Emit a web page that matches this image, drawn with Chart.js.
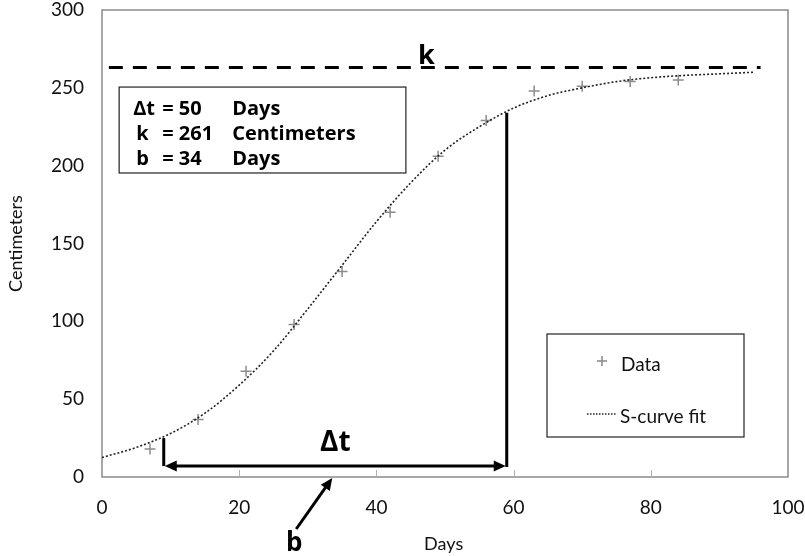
<!DOCTYPE html>
<html><head><meta charset="utf-8">
<script src="https://cdn.jsdelivr.net/npm/chart.js@4/dist/chart.umd.min.js"></script>
<style>html,body{margin:0;padding:0;background:#fff}</style>
</head><body>
<canvas id="c" width="805" height="556" style="display:block;width:805px;height:556px"></canvas>
<script>
// ---- data ----
const days = [7, 14, 21, 28, 35, 42, 49, 56, 63, 70, 77, 84];
const centimeters = [18, 37, 68, 98, 132, 170, 206, 229, 248, 251, 254, 255];
const fitDays = [0, 5, 10, 15, 20, 25, 30, 35, 40, 45, 50, 55, 60, 65, 70, 75, 80, 85, 90, 95];
const fitCentimeters = [12.5, 19, 28, 41, 59, 81, 108, 136, 164, 189, 210, 225, 237, 245, 250, 254, 256.5, 258, 259, 260];
const xTicks = [0, 20, 40, 60, 80, 100];
const yTicks = [0, 50, 100, 150, 200, 250, 300];
const kLine = 263;          // dashed asymptote level
const kLineFrom = 1, kLineTo = 96;
const deltaStart = 9, deltaEnd = 59, arrowLevel = 7;
const deltaStartTop = 25, deltaEndTop = 234;
const bValue = 34;
const infoLines = [["\u0394t", "= 50", "Days"], ["k", "= 261", "Centimeters"], ["b", "= 34", "Days"]];
const legendLabels = ["Data", "S-curve fit"];
const FONT = "Lato, 'Open Sans', sans-serif";
const BOLDFONT = "'Open Sans', Lato, sans-serif";

const overlay = {
  id: 'overlay',
  beforeDatasetsDraw(chart) {
    const {ctx, chartArea: a, scales: {x}} = chart;
    ctx.save();
    ctx.strokeStyle = '#8a8a8a'; ctx.lineWidth = 1.5;
    ctx.strokeRect(a.left, a.top, a.right - a.left, a.bottom - a.top);
    ctx.lineWidth = 1; ctx.strokeStyle = '#b0b0b0';
    xTicks.slice(1, -1).forEach(v => {
      const px = Math.round(x.getPixelForValue(v)) + 0.5;
      ctx.beginPath(); ctx.moveTo(px, a.bottom); ctx.lineTo(px, a.bottom - 7); ctx.stroke();
    });
    ctx.restore();
  },
  afterDatasetsDraw(chart) {
    const {ctx, chartArea: a, scales: {x, y}} = chart;
    ctx.save();
    // dashed k line
    ctx.strokeStyle = '#000'; ctx.lineWidth = 3; ctx.setLineDash([14, 10]);
    const yk = y.getPixelForValue(kLine);
    ctx.beginPath(); ctx.moveTo(x.getPixelForValue(kLineFrom), yk); ctx.lineTo(x.getPixelForValue(kLineTo), yk); ctx.stroke();
    ctx.setLineDash([]);
    ctx.fillStyle = '#000';
    ctx.font = "bold 27px " + BOLDFONT; ctx.textAlign = 'center'; ctx.textBaseline = 'alphabetic';
    ctx.fillText('k', x.getPixelForValue(47.3), yk - 4);

    // delta t construction
    const xs = x.getPixelForValue(deltaStart), xe = x.getPixelForValue(deltaEnd), ya = y.getPixelForValue(arrowLevel);
    ctx.lineWidth = 3; ctx.lineCap = 'butt';
    ctx.beginPath(); ctx.moveTo(xs, ya); ctx.lineTo(xs, y.getPixelForValue(deltaStartTop)); ctx.stroke();
    ctx.beginPath(); ctx.moveTo(xe, ya + 1); ctx.lineTo(xe, y.getPixelForValue(deltaEndTop)); ctx.stroke();
    ctx.beginPath(); ctx.moveTo(xs + 8, ya); ctx.lineTo(xe - 8, ya); ctx.stroke();
    const head = (tx, ty, ang) => {
      ctx.save(); ctx.translate(tx, ty); ctx.rotate(ang);
      ctx.beginPath(); ctx.moveTo(0, 0); ctx.lineTo(-12, -5.5); ctx.lineTo(-12, 5.5); ctx.closePath(); ctx.fill();
      ctx.restore();
    };
    head(xs + 1, ya, Math.PI); head(xe - 1, ya, 0);
    ctx.font = "bold 28px " + BOLDFONT; ctx.textAlign = 'center'; ctx.textBaseline = 'middle';
    ctx.fillText('\u0394t', x.getPixelForValue((deltaStart + deltaEnd) / 2), ya - 23);

    // b arrow
    const bx = x.getPixelForValue(bValue) - 3, by = a.bottom + 1;
    const tx = bx - 36, ty = by + 51;
    const ang = Math.atan2(by - ty, bx - tx);
    ctx.beginPath(); ctx.moveTo(tx, ty); ctx.lineTo(bx - 10 * Math.cos(ang), by - 10 * Math.sin(ang)); ctx.stroke();
    head(bx, by, ang);
    ctx.font = "bold 26px " + BOLDFONT; ctx.textAlign = 'center'; ctx.textBaseline = 'middle';
    ctx.fillText('b', tx - 2, ty + 15);

    // info box
    const bl = x.getPixelForValue(2.5), br = x.getPixelForValue(44.3);
    const bt = y.getPixelForValue(250.5), bb = y.getPixelForValue(195.3);
    ctx.fillStyle = '#fff'; ctx.fillRect(bl, bt, br - bl, bb - bt);
    ctx.strokeStyle = '#222'; ctx.lineWidth = 1.2; ctx.strokeRect(bl, bt, br - bl, bb - bt);
    ctx.fillStyle = '#000'; ctx.font = "bold 20px " + BOLDFONT; ctx.textAlign = 'left'; ctx.textBaseline = 'middle';
    infoLines.forEach((ln, i) => {
      const cy = bt + 22 + i * 25;
      ctx.fillText(ln[0], bl + (i === 0 ? 14 : 17), cy);
      ctx.fillText(ln[1], bl + 43, cy);
      ctx.fillText(ln[2], bl + 113, cy);
    });

    // legend
    const L = 547, T = 334, R = 744, B = 437;
    ctx.strokeStyle = '#222'; ctx.lineWidth = 1.2; ctx.strokeRect(L, T, R - L, B - T);
    ctx.strokeStyle = '#888'; ctx.lineWidth = 1.5;
    ctx.beginPath(); ctx.moveTo(597, 361); ctx.lineTo(607, 361); ctx.moveTo(602, 356); ctx.lineTo(602, 366); ctx.stroke();
    ctx.strokeStyle = '#222'; ctx.lineWidth = 1.5; ctx.setLineDash([1.5, 1.5]);
    ctx.beginPath(); ctx.moveTo(587, 414); ctx.lineTo(617, 414); ctx.stroke(); ctx.setLineDash([]);
    ctx.fillStyle = '#111'; ctx.font = "19px " + FONT; ctx.textAlign = 'left'; ctx.textBaseline = 'middle';
    ctx.fillText(legendLabels[0], 621, 365);
    ctx.fillText(legendLabels[1], 620, 417);

    // axis titles
    ctx.font = "18px " + FONT; ctx.textAlign = 'center'; ctx.textBaseline = 'middle';
    ctx.fillText('Days', x.getPixelForValue(49.8), 544);
    ctx.save(); ctx.translate(16, (a.top + a.bottom) / 2); ctx.rotate(-Math.PI / 2);
    ctx.fillText('Centimeters', 0, 0); ctx.restore();
    ctx.restore();
  }
};

new Chart(document.getElementById('c'), {
  type: 'scatter',
  data: {
    datasets: [
      {
        label: legendLabels[1],
        data: fitDays.map((d, i) => ({x: d, y: fitCentimeters[i]})),
        showLine: true, pointRadius: 0, borderColor: '#222', borderWidth: 1.6,
        borderDash: [2, 2], cubicInterpolationMode: 'monotone', fill: false
      },
      {
        label: legendLabels[0],
        data: days.map((d, i) => ({x: d, y: centimeters[i]})),
        pointStyle: 'cross', pointRadius: 5.5, borderColor: '#8c8c8c', borderWidth: 1.5, backgroundColor: '#8c8c8c'
      }
    ]
  },
  options: {
    responsive: false, animation: false, devicePixelRatio: 1,
    layout: {padding: {left: 0, right: 17, top: 10, bottom: 0}},
    plugins: {legend: {display: false}, tooltip: {enabled: false}},
    scales: {
      x: {
        type: 'linear', min: 0, max: 100,
        afterBuildTicks: s => { s.ticks = xTicks.map(v => ({value: v})); },
        afterFit: s => { s.height = 79; s.paddingLeft = 0; s.paddingRight = 0; },
        grid: {display: false, drawTicks: false}, border: {display: false},
        ticks: {padding: 19, color: '#111', font: {family: FONT, size: 19}}
      },
      y: {
        type: 'linear', min: 0, max: 300,
        afterBuildTicks: s => { s.ticks = yTicks.map(v => ({value: v})); },
        afterFit: s => { s.width = 102; s.paddingTop = 0; s.paddingBottom = 0; },
        grid: {display: false, drawTicks: false}, border: {display: false},
        ticks: {padding: 18, color: '#111', font: {family: FONT, size: 19}}
      }
    }
  },
  plugins: [overlay]
});
</script>
</body></html>
